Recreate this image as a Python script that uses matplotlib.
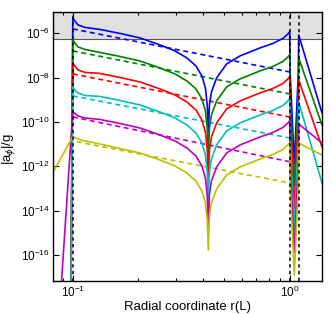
import numpy as np
import matplotlib
matplotlib.use('Agg')
import matplotlib.pyplot as plt
from matplotlib.ticker import LogLocator, NullFormatter

plt.rcParams['font.family'] = ['Liberation Sans', 'DejaVu Sans']
plt.rcParams['mathtext.fontset'] = 'custom'
plt.rcParams['mathtext.rm'] = 'Liberation Sans'
plt.rcParams['mathtext.it'] = 'Liberation Sans:italic'

# radial grid shared by the solid curves (units of L)
r_grid = [0.1, 0.1029, 0.1057, 0.1138, 0.1335, 0.165, 0.204, 0.2523, 0.2958,
          0.336, 0.3696, 0.3938, 0.4087, 0.4166, 0.4217, 0.4265, 0.4357,
          0.4603, 0.5119, 0.5897, 0.7292, 0.8368, 0.9305, 0.981, 1.0,
          1.004, 1.05, 1.096, 1.1, 1.409]

# log10 |a_phi|/g
blue_log = [-5.310, -5.490, -5.626, -5.738, -5.829, -6.009, -6.212, -6.528,
            -6.798, -7.114, -7.475, -7.926, -8.467, -9.234, -10.452, -9.234,
            -8.648, -8.016, -7.385, -7.024, -6.663, -6.460, -6.235, -6.032,
            -5.928, -7.655, -11.895, -7.746, -6.077, -9.595]
green_log = [-6.302, -6.483, -6.618, -6.731, -6.866, -7.047, -7.250, -7.565,
             -7.836, -8.152, -8.512, -8.964, -9.505, -10.272, -11.489, -10.272,
             -9.685, -9.054, -8.422, -8.061, -7.701, -7.498, -7.272, -7.069,
             -6.965, -8.693, -12.888, -8.783, -7.114, -10.136]
red_log = [-7.340, -7.520, -7.655, -7.768, -7.813, -7.994, -8.197, -8.512,
           -8.783, -9.099, -9.460, -9.911, -10.452, -11.219, -12.482, -11.264,
           -10.678, -10.046, -9.415, -9.054, -8.693, -8.490, -8.264, -8.061,
           -7.958, -9.685, -13.880, -9.775, -8.107, -11.129]
cyan_log = [-8.422, -8.603, -8.693, -8.806, -8.851, -9.031, -9.234, -9.550,
            -9.821, -10.136, -10.497, -10.948, -11.489, -12.256, -13.519, -12.256,
            -11.670, -11.038, -10.407, -10.046, -9.685, -9.482, -9.257, -9.054,
            -8.950, -10.678, -14.872, -10.768, -9.099, -12.752]
magenta_log = [-9.536, -9.640, -9.730, -9.821, -9.888, -10.069, -10.272, -10.587,
               -10.858, -11.174, -11.535, -11.986, -12.527, -13.294, -14.724, -13.249,
               -12.662, -12.031, -11.399, -11.038, -10.678, -10.475, -10.249, -10.046,
               -9.942, -11.715, -15.865, -11.805, -10.091, -10.948]
yellow_log = [-10.664, -10.723, -10.768, -10.858, -10.993, -11.196, -11.399, -11.715,
              -11.986, -12.301, -12.662, -13.113, -13.655, -14.421, -15.775, -14.241,
              -13.655, -13.023, -12.392, -12.031, -11.670, -11.467, -11.242, -11.038,
              -10.935, -12.707, -16.902, -12.797, -10.948, -11.489]

# inner rising edge (r < 0.1) of each solid curve
r_edge = [0.098, 0.098, 0.098, 0.098, 0.0876, 0.0813]
log_edge = [-18.0, -18.0, -18.0, -18.0, -18.0, -12.24]

# dashed reference power laws between r = 0.1 and r = 1
r_dash = [0.1, 1.0]
dash_log = [[-5.806, -7.746],
            [-6.798, -8.738],
            [-7.836, -9.776],
            [-8.828, -10.723],
            [-9.776, -11.792],
            [-10.858, -12.752]]
yellow_dash_lead = (0.097, -11.444)

# boundaries and excluded band
r_bounds = [0.1, 1.0, 1.1]
band_log = -6.26

colors = [(0, 0, 1), (0, 0.5, 0), (1, 0, 0), (0, 0.75, 0.75),
          (0.75, 0, 0.75), (0.75, 0.75, 0)]
solids = [blue_log, green_log, red_log, cyan_log, magenta_log, yellow_log]

fig = plt.figure(figsize=(3.32, 3.14), dpi=100)
ax = fig.add_axes([0.1605, 0.1051, 0.8094, 0.8576])
ax.set_xscale('log')
ax.set_yscale('log')
xlim = (0.0813, 1.409)
ylim = (10 ** -17.17, 10 ** -5.03)

ax.axhspan(10 ** band_log, ylim[1], facecolor=(0.88, 0.88, 0.88),
           edgecolor=(0.35, 0.35, 0.35), lw=0.8, zorder=0)

for i in range(6):
    c = colors[i]
    # dashed fit
    rd = list(r_dash)
    ld = list(dash_log[i])
    if i == 5:
        rd = [yellow_dash_lead[0]] + rd
        ld = [yellow_dash_lead[1]] + ld
    ax.plot(rd, 10.0 ** np.array(ld), color=c, lw=1.2, ls=(0, (3.0, 2.2)))

for i in range(6):
    c = colors[i]
    rs = [r_edge[i]] + r_grid
    ls_ = [log_edge[i]] + solids[i]
    ax.plot(rs, 10.0 ** np.array(ls_), color=c, lw=1.2)

for rb in r_bounds:
    ax.axvline(rb, color='k', lw=1.1, ls=(0, (2.2, 2.2)), zorder=5)

ax.set_xlim(*xlim)
ax.set_ylim(*ylim)

ax.set_yticks([10.0 ** e for e in [-16, -14, -12, -10, -8, -6]])
ax.yaxis.set_minor_locator(plt.NullLocator())
ax.xaxis.set_major_locator(LogLocator(base=10, subs=(1.0,), numticks=10))
ax.xaxis.set_minor_locator(LogLocator(base=10, subs=np.arange(2, 10), numticks=10))
ax.xaxis.set_minor_formatter(NullFormatter())

ax.tick_params(which='both', direction='in', top=True, right=True,
               labelsize=8.5, width=0.8, pad=2.5)
ax.tick_params(which='major', length=4)
ax.tick_params(which='minor', length=2.5)
for s in ax.spines.values():
    s.set_linewidth(1.0)

ax.set_xlabel('Radial coordinate r(L)', fontsize=9.5, labelpad=1)
ax.set_ylabel(r'|a$_\phi$|/g', fontsize=9.5)
ax.yaxis.set_label_coords(-0.135, 0.49)

fig.savefig('out.png', dpi=100)
